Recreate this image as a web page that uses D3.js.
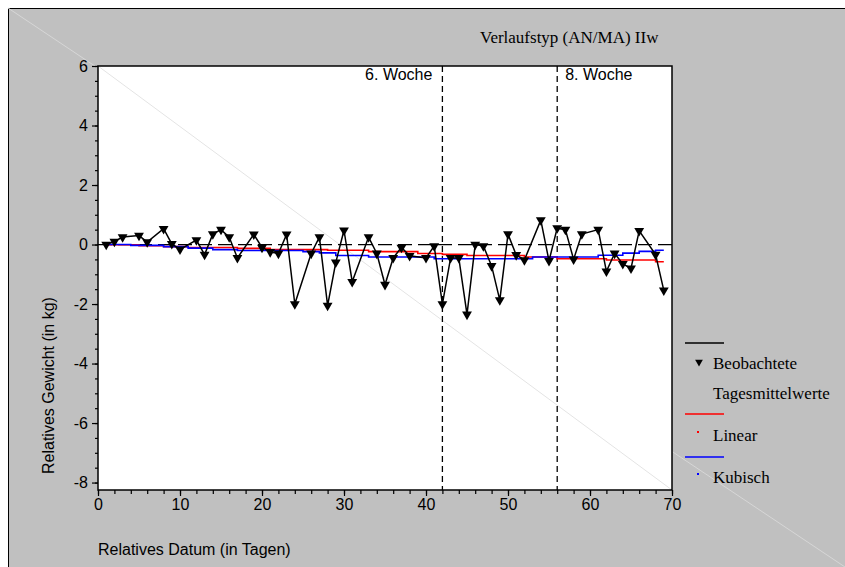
<!DOCTYPE html>
<html>
<head>
<meta charset="utf-8">
<script src="https://cdn.jsdelivr.net/npm/d3@7"></script>
<style>
  html, body { margin: 0; padding: 0; background: #ffffff; }
  svg { display: block; }
</style>
</head>
<body>
<svg id="chart" width="845" height="567"></svg>
<script>
// ---------- data ----------
const obsDays = [1,2,3,5,6,8,9,10,12,13,14,15,16,17,19,20,21,22,23,24,26,27,28,29,30,31,33,34,35,36,37,38,40,41,42,43,44,45,46,47,48,49,50,51,52,54,55,56,57,58,59,61,62,63,64,65,66,68,69];
const obsVals = [0.0,0.1,0.25,0.3,0.08,0.53,0.02,-0.16,0.15,-0.34,0.35,0.5,0.25,-0.45,0.34,-0.1,-0.25,-0.3,0.34,-2.0,-0.3,0.25,-2.05,-0.6,0.48,-1.25,0.25,-0.3,-1.35,-0.45,-0.1,-0.38,-0.45,-0.05,-2.0,-0.45,-0.45,-2.35,0.0,-0.05,-0.72,-1.87,0.35,-0.35,-0.52,0.82,-0.55,0.55,0.5,-0.5,0.35,0.5,-0.9,-0.3,-0.65,-0.8,0.46,-0.34,-1.54];

const linDays = [1,5,8,11,17,21,28,33,39,42,45,52,56,62,68,69];
const linVals = [-0.01,-0.04,-0.07,-0.1,-0.13,-0.17,-0.19,-0.24,-0.3,-0.33,-0.37,-0.42,-0.48,-0.52,-0.58,-0.58];

const cubDays = [1,4,8,11,14,17,25,27,29,33,41,53,61,64,66,68,69];
const cubVals = [0,-0.03,-0.07,-0.12,-0.17,-0.2,-0.24,-0.28,-0.37,-0.42,-0.48,-0.42,-0.36,-0.29,-0.23,-0.19,-0.19];

const xTicks = [0,10,20,30,40,50,60,70];
const yTicks = [-8,-6,-4,-2,0,2,4,6];
const weekDays = [42,56];
const weekLabels = ["6. Woche","8. Woche"];
const legendLabels = ["Beobachtete","Tagesmittelwerte","Linear","Kubisch"];
const title = "Verlaufstyp (AN/MA) IIw";
const xTitle = "Relatives Datum (in Tagen)";
const yTitle = "Relatives Gewicht (in kg)";

// ---------- setup ----------
const svg = d3.select("#chart");
const sans = "'Liberation Sans', Arial, sans-serif";
const serif = "'Liberation Serif', 'Times New Roman', serif";

const x = d3.scaleLinear().domain([0,70]).range([98,672]);
const y = d3.scaleLinear().domain([-8.25,6]).range([490,66]);

// figure background
svg.append("rect").attr("x",8.5).attr("y",8.5).attr("width",850).attr("height",570)
  .attr("fill","#c0c0c0").attr("stroke","#000").attr("stroke-width",1);
svg.append("line").attr("x1",8).attr("y1",8).attr("x2",845).attr("y2",567)
  .attr("stroke","#d6d6d6").attr("stroke-width",1);

// plot area
svg.append("rect").attr("x",x(0)).attr("y",y(6)).attr("width",x(70)-x(0)).attr("height",y(-8.25)-y(6))
  .attr("fill","#fff");
svg.append("line").attr("x1",x(0)).attr("y1",y(6)).attr("x2",x(70)).attr("y2",y(-8.25))
  .attr("stroke","#e4e4e4").attr("stroke-width",1);

// zero dashed line
svg.append("line").attr("x1",x(0)).attr("x2",x(70)).attr("y1",y(0)).attr("y2",y(0))
  .attr("stroke","#000").attr("stroke-width",1.3).attr("stroke-dasharray","14,6");

// week lines
weekDays.forEach((d,i)=>{
  svg.append("line").attr("x1",x(d)).attr("x2",x(d)).attr("y1",y(6)).attr("y2",y(-8.25))
    .attr("stroke","#000").attr("stroke-width",1.3).attr("stroke-dasharray","6,4");
  svg.append("text").attr("x", i===0 ? x(d)-10 : x(d)+8).attr("y",80)
    .attr("text-anchor", i===0 ? "end" : "start")
    .attr("font-family",sans).attr("font-size",16).text(weekLabels[i]);
});

// step lines
const linData = linDays.map((d,i)=>[d,linVals[i]]);
const cubData = cubDays.map((d,i)=>[d,cubVals[i]]);
const stepLine = d3.line().x(d=>x(d[0])).y(d=>y(d[1])).curve(d3.curveStepAfter);
svg.append("path").attr("d",stepLine(linData)).attr("fill","none").attr("stroke","#ff0000").attr("stroke-width",1.6);
svg.append("path").attr("d",stepLine(cubData)).attr("fill","none").attr("stroke","#0000ff").attr("stroke-width",1.6);

// observed
const obsData = obsDays.map((d,i)=>[d,obsVals[i]]);
const line = d3.line().x(d=>x(d[0])).y(d=>y(d[1]));
svg.append("path").attr("d",line(obsData)).attr("fill","none").attr("stroke","#000").attr("stroke-width",1.5);
const tri = d3.symbol().type(d3.symbolTriangle).size(42);
svg.selectAll(".pt").data(obsData).enter().append("path")
  .attr("d",tri).attr("transform",d=>`translate(${x(d[0])},${y(d[1])}) rotate(180)`).attr("fill","#000");

// frame
svg.append("rect").attr("x",x(0)).attr("y",y(6)).attr("width",x(70)-x(0)).attr("height",y(-8.25)-y(6))
  .attr("fill","none").attr("stroke","#000").attr("stroke-width",1.5);

// axes
const fmt = d => String(d);
const xMinor = d3.range(0,71,2);
const yMinor = d3.range(-8,6.01,0.5);
const gx = svg.append("g").attr("transform",`translate(0,${y(-8.25)})`);
gx.call(d3.axisBottom(x).tickValues(xMinor).tickSize(4).tickFormat(""));
gx.select(".domain").remove();
const gx2 = svg.append("g").attr("transform",`translate(0,${y(-8.25)})`);
gx2.call(d3.axisBottom(x).tickValues(xTicks).tickSize(6).tickPadding(3).tickFormat(fmt));
gx2.select(".domain").remove();
gx2.selectAll("text").attr("font-family",sans).attr("font-size",16).attr("fill","#000");

const gy = svg.append("g").attr("transform",`translate(${x(0)},0)`);
gy.call(d3.axisLeft(y).tickValues(yMinor).tickSize(3).tickFormat(""));
gy.select(".domain").remove();
const gy2 = svg.append("g").attr("transform",`translate(${x(0)},0)`);
gy2.call(d3.axisLeft(y).tickValues(yTicks).tickSize(6).tickPadding(4).tickFormat(fmt));
gy2.select(".domain").remove();
gy2.selectAll("text").attr("font-family",sans).attr("font-size",16).attr("fill","#000");
svg.selectAll(".tick line").attr("stroke","#000").attr("stroke-width",1.2);

// titles
svg.append("text").attr("x",480).attr("y",43).attr("font-family",serif).attr("font-size",17).text(title);
svg.append("text").attr("x",98).attr("y",555).attr("font-family",sans).attr("font-size",16).text(xTitle);
svg.append("text").attr("transform","translate(54,474) rotate(-90)").attr("font-family",sans).attr("font-size",16).text(yTitle);

// legend
const lg = svg.append("g");
lg.append("line").attr("x1",685).attr("x2",724).attr("y1",343).attr("y2",343).attr("stroke","#000").attr("stroke-width",1.5);
lg.append("path").attr("d",d3.symbol().type(d3.symbolTriangle).size(26)).attr("transform","translate(699,362) rotate(180)").attr("fill","#000");
lg.append("text").attr("x",713).attr("y",369).attr("font-family",serif).attr("font-size",17).text(legendLabels[0]);
lg.append("text").attr("x",713).attr("y",399).attr("font-family",serif).attr("font-size",17).text(legendLabels[1]);
lg.append("line").attr("x1",685).attr("x2",724).attr("y1",414).attr("y2",414).attr("stroke","#ff0000").attr("stroke-width",1.5);
lg.append("rect").attr("x",697).attr("y",431).attr("width",2).attr("height",2).attr("fill","#ff0000");
lg.append("text").attr("x",713).attr("y",441).attr("font-family",serif).attr("font-size",17).text(legendLabels[2]);
lg.append("line").attr("x1",685).attr("x2",724).attr("y1",457).attr("y2",457).attr("stroke","#0000ff").attr("stroke-width",1.5);
lg.append("rect").attr("x",697).attr("y",473).attr("width",2).attr("height",2).attr("fill","#0000ff");
lg.append("text").attr("x",713).attr("y",483).attr("font-family",serif).attr("font-size",17).text(legendLabels[3]);
</script>
</body>
</html>
